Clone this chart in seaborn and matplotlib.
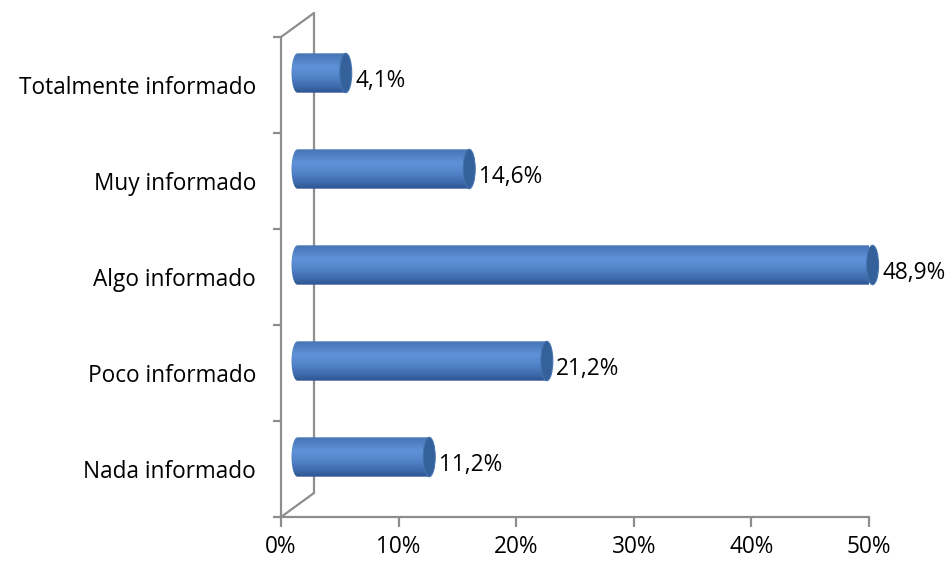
import numpy as np
import matplotlib
matplotlib.use("Agg")
import matplotlib.pyplot as plt
import matplotlib.transforms as mtransforms
from matplotlib.path import Path
from matplotlib.patches import PathPatch, Ellipse
from matplotlib.lines import Line2D
from matplotlib.colors import LinearSegmentedColormap
import seaborn as sns
import pandas as pd

categories = ["Totalmente informado", "Muy informado", "Algo informado",
              "Poco informado", "Nada informado"]
values = [4.1, 14.6, 48.9, 21.2, 11.2]
value_labels = ["4,1%", "14,6%", "48,9%", "21,2%", "11,2%"]
xticks = [0, 10, 20, 30, 40, 50]
xtick_labels = ["0%", "10%", "20%", "30%", "40%", "50%"]

sns.set_theme(style="white")
plt.rcParams['font.family'] = ['Open Sans', 'DejaVu Sans']

W, H = 952, 561
fig = plt.figure(figsize=(W / 100, H / 100), dpi=100)
ax = fig.add_axes([281 / W, 44 / H, 588 / W, 480 / H])

df = pd.DataFrame({"cat": categories, "val": values})
sns.barplot(data=df, x="val", y="cat", orient="h", ax=ax, width=0.41,
            color="#4f81bd")
ax.set_xlim(0, 50)
ax.set_ylim(4.5, -0.5)

gray = "#8e8e8e"
for s in ["top", "right"]:
    ax.spines[s].set_visible(False)
for s in ["left", "bottom"]:
    ax.spines[s].set_color(gray)
    ax.spines[s].set_linewidth(1.6)

# 3D offsets
depth = mtransforms.ScaledTranslation(33 / 100, 24 / 100, fig.dpi_scale_trans)
half = mtransforms.ScaledTranslation(16.5 / 100, 12 / 100, fig.dpi_scale_trans)
tr_back = ax.transData + depth
tr_mid = ax.transData + half

# back wall
ax.plot([0, 0], [-0.5, 4.5], color=gray, lw=1.6, transform=tr_back,
        clip_on=False, zorder=0.5)
for yv in (-0.5, 4.5):
    p = ax.transData.transform((0, yv))
    fig.add_artist(Line2D([p[0], p[0] + 33], [p[1], p[1] + 24], color=gray,
                          lw=1.6, transform=None, zorder=0.5))

cmap = LinearSegmentedColormap.from_list(
    "cyl", [(0.0, "#4674b4"), (0.35, "#5e92d8"), (0.6, "#5283c8"),
            (0.85, "#3d68a8"), (1.0, "#2b5590")])

px_per_unit = 588 / 50
ew = 12 / px_per_unit  # ellipse width in data units

for patch, lab in zip(ax.patches, value_labels):
    x0 = patch.get_x()
    w = patch.get_width()
    y0 = patch.get_y()
    h = patch.get_height()
    x1 = x0 + w
    yc = y0 + h / 2
    patch.set_visible(False)
    t = np.linspace(np.pi / 2, 3 * np.pi / 2, 40)
    ex = x0 + (ew / 2) * np.cos(t)
    ey = yc - (h / 2) * np.sin(t)
    verts = list(zip(ex, ey)) + [(x1, y0 + h), (x1, y0), (ex[0], ey[0])]
    codes = [Path.MOVETO] + [Path.LINETO] * (len(verts) - 2) + [Path.CLOSEPOLY]
    body = PathPatch(Path(verts, codes), facecolor="none", edgecolor="none",
                     transform=tr_mid)
    ax.add_patch(body)
    grad = np.linspace(0, 1, 256).reshape(-1, 1)
    im = ax.imshow(grad, cmap=cmap, aspect="auto",
                   extent=(x0 - ew, x1 + ew, y0 + h, y0),
                   transform=tr_mid, zorder=2, clip_on=True)
    im.set_clip_path(body)
    cap = Ellipse((x1, yc), ew, h, facecolor="#35619b", edgecolor="#4573b0",
                  lw=0.8, transform=tr_mid, zorder=3, clip_on=False)
    ax.add_patch(cap)
    ax.annotate(lab, xy=(x1, yc), xytext=(26, 4), textcoords="offset pixels",
                ha="left", va="center", fontsize=16.3, color="#000000",
                annotation_clip=False)

ax.set_xlim(0, 50)
ax.set_ylim(4.5, -0.5)
ax.set_xticks(xticks)
ax.set_xticklabels(xtick_labels)
ax.set_yticks(range(len(categories)))
ax.set_yticklabels(categories)
ax.set_yticks(np.arange(-0.5, 5, 1), minor=True)
ax.tick_params(axis="y", which="major", length=0, pad=18, labelsize=16.3,
               colors="#000000")
ax.tick_params(axis="y", which="minor", length=6, width=1.6, color=gray,
               left=True)
ax.tick_params(axis="x", which="major", length=7, width=1.6, color=gray,
               bottom=True, pad=6, labelsize=16.3, labelcolor="#000000")
ax.set_xlabel("")
ax.set_ylabel("")
ax.grid(False)

fig.savefig("out.png", dpi=100)
